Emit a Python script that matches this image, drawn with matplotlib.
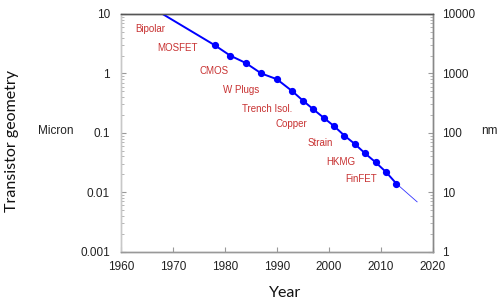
import matplotlib
matplotlib.use("Agg")
import matplotlib.pyplot as plt
from matplotlib.ticker import LogLocator, FixedLocator, NullFormatter, FixedFormatter

years = [1978, 1981, 1984, 1987, 1990, 1993, 1995, 1997, 1999, 2001, 2003,
         2005, 2007, 2009, 2011, 2013]
micron = [3.0, 2.0, 1.5, 1.0, 0.8, 0.5, 0.35, 0.25, 0.18, 0.13, 0.09,
          0.065, 0.045, 0.032, 0.022, 0.014]
trend_start_year = [1968]
trend_start_value = [10.0]
proj_years = [2013, 2017]
proj_values = [0.014, 0.0069]

labels = ["Bipolar", "MOSFET", "CMOS", "W Plugs", "Trench Isol.", "Copper",
          "Strain", "HKMG", "FinFET"]
label_x = [1962.7, 1966.9, 1975.2, 1979.7, 1983.2, 1989.8, 1995.9, 1999.5, 2003.2]
label_y = [5.53, 2.71, 1.10, 0.526, 0.252, 0.139, 0.068, 0.0324, 0.0169]

xticks = [1960, 1970, 1980, 1990, 2000, 2010, 2020]
left_ticks = [10, 1, 0.1, 0.01, 0.001]
left_ticklabels = ["10", "1", "0.1", "0.01", "0.001"]
right_ticks = [10000, 1000, 100, 10, 1]
right_ticklabels = ["10000", "1000", "100", "10", "1"]

plt.rcParams['font.family'] = ['Liberation Sans', 'DejaVu Sans']

fig = plt.figure(figsize=(5.03, 3.02), dpi=100)
ax = fig.add_axes([121/503, 1-251.7/302, 311.7/503, 237.7/302])
ax.set_xlim(1960, 2020)
ax.set_yscale('log')
ax.set_ylim(0.001, 10)

blue = '#0000ff'
ax.plot(trend_start_year + years, trend_start_value + micron, color=blue, lw=1.4,
        zorder=3, solid_capstyle='butt')
ax.plot(years, micron, 'o', color=blue, ms=4.2, zorder=4)
ax.plot(proj_years, proj_values, color=blue, lw=0.6, alpha=0.8, zorder=2)

red = '#c83232'
for t, x, y in zip(labels, label_x, label_y):
    ax.text(x, y, t, color=red, fontsize=7, ha='left', va='center')

tick_color = '#222222'
ax.xaxis.set_major_locator(FixedLocator(xticks))
ax.set_xticklabels([str(v) for v in xticks])
ax.yaxis.set_major_locator(FixedLocator(left_ticks))
ax.yaxis.set_major_formatter(FixedFormatter(left_ticklabels))
ax.yaxis.set_minor_locator(LogLocator(base=10, subs=range(2, 10)))
ax.yaxis.set_minor_formatter(NullFormatter())
ax.tick_params(axis='both', which='major', direction='in', length=3.5,
               color='#999999', labelsize=8.5, labelcolor=tick_color)
ax.tick_params(axis='y', which='major', pad=8)
ax.tick_params(axis='x', which='major', pad=7)
ax.tick_params(axis='y', which='minor', direction='in', length=2, color='#aaaaaa')

ax2 = ax.twinx()
ax2.set_yscale('log')
ax2.set_ylim(1, 10000)
ax2.yaxis.set_major_locator(FixedLocator(right_ticks))
ax2.yaxis.set_major_formatter(FixedFormatter(right_ticklabels))
ax2.yaxis.set_minor_locator(LogLocator(base=10, subs=range(2, 10)))
ax2.yaxis.set_minor_formatter(NullFormatter())
ax2.tick_params(axis='y', which='major', direction='in', length=3.5,
                color='#999999', labelsize=8.5, labelcolor=tick_color, pad=7)
ax2.tick_params(axis='y', which='minor', direction='in', length=2, color='#aaaaaa')

for a in (ax, ax2):
    a.spines['top'].set_color('#555555')
    a.spines['left'].set_color('#c8c8c8')
    a.spines['bottom'].set_color('#999999')
    a.spines['right'].set_color('#888888')
    for s in a.spines.values():
        s.set_linewidth(1.0)

ax.text(-0.265, 0.508, "Micron", transform=ax.transAxes, fontsize=8.5,
        color=tick_color, ha='left', va='center')
ax.text(1.157, 0.508, "nm", transform=ax.transAxes, fontsize=8.5,
        color=tick_color, ha='left', va='center')

lab_font = ['Lato', 'DejaVu Sans']
fig.text(12/503, 1-141/302, "Transistor geometry", rotation=90, fontsize=11.5,
         family=lab_font, color='#111111', ha='center', va='center')
fig.text(285/503, 1-292.7/302, "Year", fontsize=11.5, family=lab_font,
         color='#111111', ha='center', va='center')

fig.savefig("out.png", dpi=100)
